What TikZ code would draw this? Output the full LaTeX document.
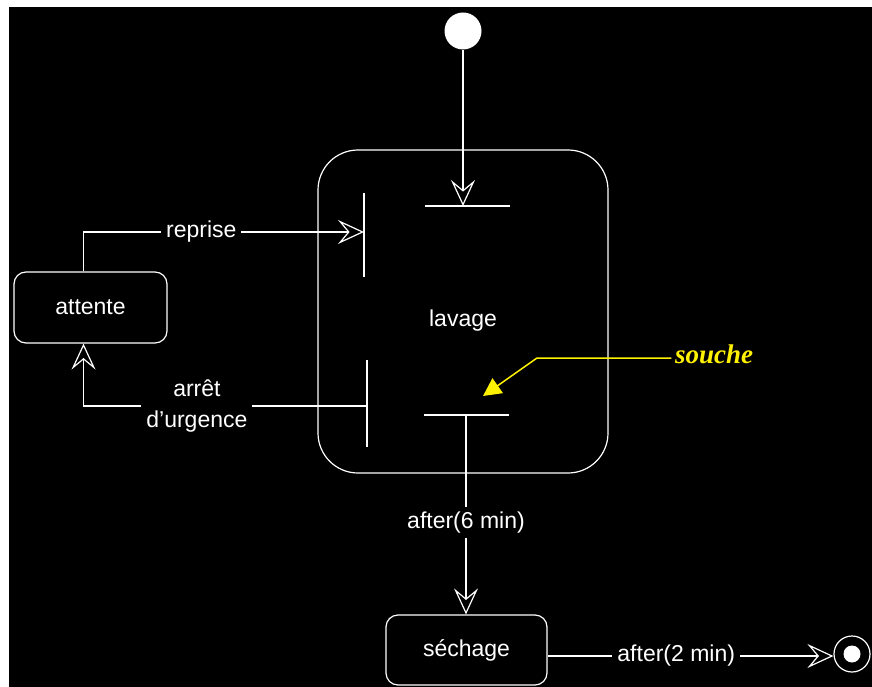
\documentclass[tikz,border=0pt]{standalone}
\usepackage{fontspec}
\setmainfont{Liberation Sans}
\newfontfamily\soucheface{Liberation Serif}
\usetikzlibrary{arrows.meta, positioning, calc}

\begin{document}
\begin{tikzpicture}[x=1pt, y=-1pt,
  state/.style={draw=white, line width=1.2pt, rounded corners=12pt, text=white,
                font=\fontsize{23}{27}\selectfont, inner sep=0pt},
  flow/.style={draw=white, line width=1.2pt,
               -{Stealth[open, length=26pt, width=24pt, inset=10pt]}},
  bar/.style={draw=white, line width=1.4pt},
  lbl/.style={fill=black, text=white, font=\fontsize{23}{31}\selectfont,
              inner sep=5pt, align=center}]

% ===== BACKGROUND =====
\fill[white] (0,0) rectangle (872,687);
\fill[black] (9,7) rectangle (872,687);
\useasboundingbox (0,0) rectangle (872,687);

% ===== STATES =====
\node[circle, fill=white, minimum size=37pt, inner sep=0pt] (init) at (463,31) {};

\node[state, rounded corners=40pt, minimum width=290pt, minimum height=323pt,
      label={[text=white, font=\fontsize{23}{27}\selectfont, yshift=-9pt]center:lavage}]
      (lavage) at (463,311.5) {};

\node[state, minimum width=153pt, minimum height=71pt] (attente) at (90.5,307.5) {attente};

\node[state, minimum width=161pt, minimum height=70pt] (sechage) at (466.5,650) {séchage};

\node[circle, draw=white, line width=1.2pt, minimum size=36pt, inner sep=0pt] (final) at (852,654) {};
\node[circle, fill=white, minimum size=17pt, inner sep=0pt] (finalDot) at (final.center) {};

% ===== BARS inside lavage =====
\coordinate (barIn) at (463,206);
\coordinate (barRep) at (364,232);
\coordinate (barStop) at (367,406);
\coordinate (barOut) at (466,415);
\draw[bar] (425,206) -- (510,206);
\draw[bar] (364,193) -- (364,277);
\draw[bar] (367,360) -- (367,447);
\draw[bar] (424,415) -- (509,415);

% ===== TRANSITIONS =====
\draw[flow] (init) -- (barIn);

\draw[flow] ($(attente.north)+(-7,0)$) |- node[lbl, pos=0.71] {reprise} (barRep);

\draw[flow] (barStop) -| node[lbl, pos=0.3] {arrêt\\d'urgence} ($(attente.south)+(-7,0)$);

\draw[flow] (barOut) -- node[lbl, pos=0.54] {after(6 min)} (sechage.north -| barOut);

\draw[flow] ($(sechage.east)+(0,6)$) -- node[lbl, pos=0.45] {after(2 min)} ($(final.west)+(0,2)$);

% ===== NOTE =====
\node[text=yellow, font=\soucheface\bfseries\itshape\fontsize{27}{30}\selectfont]
      (souche) at (714,354) {souche};
\coordinate (soucheBend) at (537,358);
\coordinate (soucheTip) at (483,396);
\draw[yellow, line width=1.5pt, -{Triangle[length=18pt, width=18pt]}]
      (souche.west |- soucheBend) -- (soucheBend) -- (soucheTip);

\end{tikzpicture}
\end{document}
